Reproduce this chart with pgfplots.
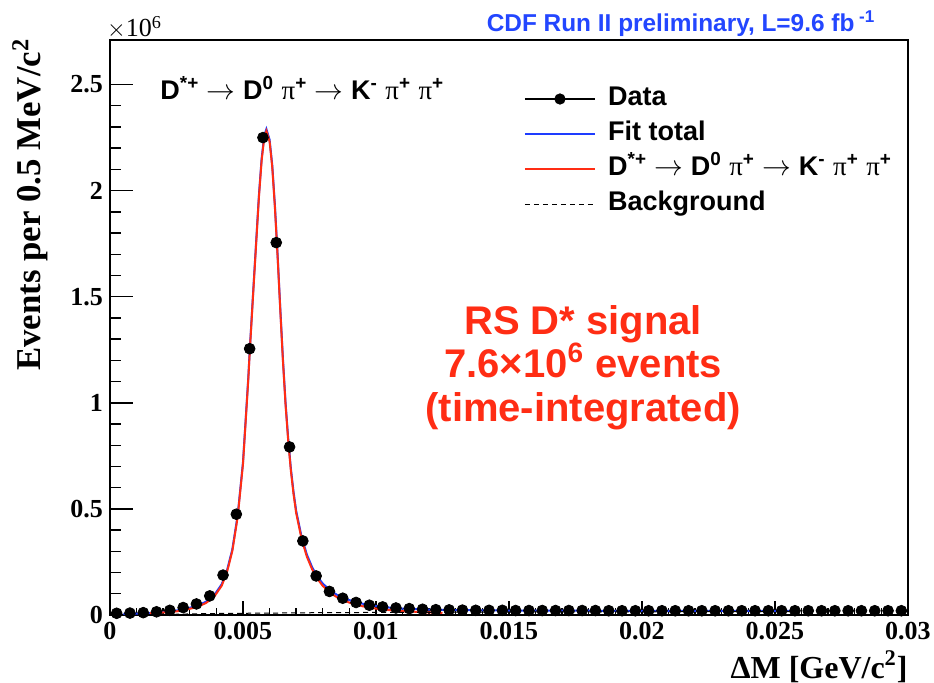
\documentclass[border=0pt]{standalone}
\usepackage{pgfplots}
\pgfplotsset{compat=1.18}
\usepackage{fontspec}
\setmainfont{Liberation Serif}
\newfontfamily\arial{Liberation Sans}
\newfontfamily\timesf{Liberation Serif}
\definecolor{rootblue}{RGB}{30,60,255}
\definecolor{rootred}{RGB}{255,45,20}
\definecolor{cdfblue}{RGB}{35,70,255}
\newcommand{\piplus}{{\timesf\mdseries π}\textsuperscript{+}}
\newcommand{\decay}{D\textsuperscript{*+} $\rightarrow$ D\textsuperscript{0} \piplus{} $\rightarrow$ K\textsuperscript{-} \piplus{} \piplus}

\pgfplotstableread{
x y
0.00025 0.008
0.00075 0.009
0.00125 0.011
0.00175 0.015
0.00225 0.022
0.00275 0.035
0.00325 0.052
0.00375 0.090
0.00425 0.188
0.00475 0.475
0.00525 1.255
0.00575 2.250
0.00625 1.755
0.00675 0.792
0.00725 0.349
0.00775 0.184
0.00825 0.111
0.00875 0.079
0.00925 0.059
0.00975 0.046
0.01025 0.038
0.01075 0.033
0.01125 0.030
0.01175 0.027
0.01225 0.025
0.01275 0.024
0.01325 0.023
0.01375 0.022
0.01425 0.022
0.01475 0.022
0.01525 0.021
0.01575 0.021
0.01625 0.021
0.01675 0.021
0.01725 0.021
0.01775 0.021
0.01825 0.021
0.01875 0.020
0.01925 0.020
0.01975 0.020
0.02025 0.020
0.02075 0.020
0.02125 0.020
0.02175 0.020
0.02225 0.020
0.02275 0.020
0.02325 0.020
0.02375 0.020
0.02425 0.020
0.02475 0.020
0.02525 0.020
0.02575 0.020
0.02625 0.020
0.02675 0.020
0.02725 0.020
0.02775 0.020
0.02825 0.020
0.02875 0.020
0.02925 0.020
0.02975 0.020
}\datatab

\pgfplotstableread{
x y
0.0005 0.005
0.001 0.006
0.0015 0.009
0.002 0.014
0.0025 0.021
0.003 0.034
0.0033 0.045
0.0036 0.062
0.0039 0.090
0.0042 0.145
0.0044 0.210
0.0046 0.310
0.0048 0.470
0.0050 0.720
0.0052 1.120
0.00525 1.240
0.0054 1.560
0.0056 1.980
0.0057 2.150
0.0058 2.260
0.00588 2.290
0.0060 2.240
0.0061 2.120
0.0062 1.930
0.0063 1.700
0.0064 1.450
0.0065 1.210
0.0066 1.000
0.0067 0.830
0.0068 0.690
0.0069 0.580
0.0070 0.490
0.0072 0.370
0.0074 0.285
0.0076 0.225
0.0078 0.180
0.0080 0.148
0.0083 0.113
0.0086 0.090
0.0090 0.070
0.0095 0.053
0.0100 0.042
0.0105 0.035
0.0110 0.030
0.0120 0.025
0.0130 0.023
0.0150 0.021
0.0180 0.020
0.0215 0.019
0.0256 0.019
}\fittab

\pgfplotstableread{
x y
0.0015 0.008
0.002 0.012
0.0025 0.017
0.003 0.029
0.0033 0.039
0.0036 0.056
0.0039 0.083
0.0042 0.138
0.0044 0.203
0.0046 0.302
0.0048 0.462
0.0050 0.712
0.0052 1.112
0.00525 1.232
0.0054 1.552
0.0056 1.972
0.0057 2.141
0.0058 2.251
0.00588 2.281
0.0060 2.231
0.0061 2.111
0.0062 1.921
0.0063 1.691
0.0064 1.441
0.0065 1.201
0.0066 0.991
0.0067 0.821
0.0068 0.680
0.0069 0.570
0.0070 0.480
0.0072 0.360
0.0074 0.275
0.0076 0.215
0.0078 0.170
0.0080 0.137
0.0083 0.102
0.0086 0.079
0.0090 0.058
0.0095 0.041
0.0100 0.030
0.0105 0.023
0.0110 0.018
0.0120 0.012
0.0125 0.010
}\sigtab

\pgfplotstableread{
x y
0.0014 0.000
0.002 0.002
0.003 0.005
0.004 0.007
0.005 0.008
0.006 0.009
0.008 0.011
0.010 0.012
0.0125 0.013
0.015 0.014
0.020 0.015
0.0256 0.016
}\bkgtab

\begin{document}
\begin{tikzpicture}
\useasboundingbox (-55pt,-34pt) rectangle (412pt,307.5pt);
\begin{axis}[
  at={(0pt,0pt)}, anchor=south west,
  scale only axis, width=399pt, height=287.5pt,
  xmin=0, xmax=0.03, ymin=0, ymax=2.71,
  clip=false,
  scaled x ticks=false, scaled y ticks=false,
  axis line style={line width=1pt},
  xtick={0,0.005,0.01,0.015,0.02,0.025,0.03},
  xticklabels={0,0.005,0.01,0.015,0.02,0.025,0.03},
  ytick={0,0.5,1,1.5,2,2.5},
  yticklabels={0,0.5,1,1.5,2,2.5},
  minor x tick num=4, minor y tick num=4,
  xtick pos=lower, ytick pos=left,
  tick align=inside,
  major tick length=11.5pt, minor tick length=5.5pt,
  xtick style={/pgfplots/major tick length=7pt,/pgfplots/minor tick length=3.5pt},
  tick style={line width=0.7pt, black},
  tick label style={font=\bfseries\fontsize{13}{15}\selectfont},
  xticklabel style={yshift=0pt},
  legend cell align=left,
  legend style={at={(axis description cs:0.518,0.925)}, anchor=north west,
    draw=none, fill=none, inner sep=0pt, row sep=2pt, column sep=5pt,
    font=\arial\bfseries\fontsize{13.5}{15}\selectfont,
    nodes={inner sep=1pt, text height=10pt, text depth=3.5pt}},
]
\addplot[only marks, mark=*, mark size=2.7pt, black,
  legend image code/.code={\draw[black,line width=1.2pt](0pt,0pt)--(35pt,0pt); \fill[black](17.5pt,0pt) circle (2.6pt);}]
  table[x=x,y=y]{\datatab};
\addlegendentry{Data}
\addplot[rootblue, line width=1pt, no marks,
  legend image code/.code={\draw[rootblue,line width=1pt](0pt,0pt)--(35pt,0pt);}]
  table[x=x,y=y]{\fittab};
\addlegendentry{Fit total}
\addplot[rootred, line width=1pt, no marks,
  legend image code/.code={\draw[rootred,line width=1pt](0pt,0pt)--(35pt,0pt);}]
  table[x=x,y=y]{\sigtab};
\addlegendentry{\decay}
\addplot[black, line width=0.5pt, dash pattern=on 2.5pt off 2pt, no marks,
  legend image code/.code={\draw[black,line width=0.5pt,dash pattern=on 2.5pt off 2pt](0pt,0pt)--(35pt,0pt);}]
  table[x=x,y=y]{\bkgtab};
\addlegendentry{Background}

\node[anchor=west, font=\arial\bfseries\fontsize{13.5}{15}\selectfont, inner sep=0pt] at (axis description cs:0.0627,0.9165) {\decay};
\node[anchor=east, text=cdfblue, font=\arial\bfseries\fontsize{12.2}{14}\selectfont] at (axis description cs:0.968,1.028) {CDF Run II preliminary, L=9.6 fb\textsuperscript{ -1}};
\node[anchor=west, font=\fontsize{13}{15}\selectfont, inner sep=0pt] at (axis description cs:-0.004,1.022) {$\times$10\textsuperscript{6}};
\node[align=center, text=rootred, font=\arial\bfseries\fontsize{20}{21.75}\selectfont] at (axis description cs:0.593,0.43) {RS D* signal\\7.6×10\textsuperscript{6} events\\(time-integrated)};
\node[anchor=east, font=\bfseries\fontsize{16}{18}\selectfont, inner sep=0pt] at (axis description cs:1.0,-0.09) {ΔM [GeV/c\textsuperscript{2}]};
\node[anchor=east, rotate=90, font=\bfseries\fontsize{17.4}{19}\selectfont, inner sep=0pt] at (axis description cs:-0.1,1.003) {Events per 0.5 MeV/c\textsuperscript{2}};
\end{axis}
\end{tikzpicture}
\end{document}
